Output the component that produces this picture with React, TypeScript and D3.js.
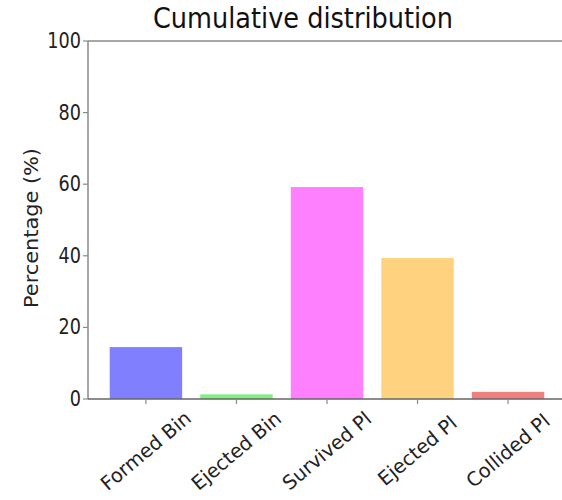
import React from "react";
import * as d3 from "d3";

const categories = ["Formed Bin", "Ejected Bin", "Survived Pl", "Ejected Pl", "Collided Pl"];
const values = [14.5, 1.3, 59.2, 39.4, 2.0];
const colors = ["#8080ff", "#80f080", "#ff80ff", "#ffd280", "#f08080"];
const yTicks = [0, 20, 40, 60, 80, 100];

const W = 562;
const H = 500;
const font = "'DejaVu Sans', sans-serif";

export default function App() {
  const x = d3.scaleLinear().domain([-0.64, 4.64]).range([88, 566]);
  const y = d3.scaleLinear().domain([0, 100]).range([399, 41]);
  const bw = x(0.8) - x(0);
  const axisColor = "#8a8a8a";
  const labelFs = 19.5;
  const tickFs = 21;

  return (
    <svg width={W} height={H} style={{ position: "absolute", left: 0, top: 0, background: "#fff" }}>
      <rect x={0} y={0} width={W} height={H} fill="#fff" />
      {categories.map((c, i) => (
        <rect
          key={c}
          x={x(i) - bw / 2}
          y={y(values[i])}
          width={bw}
          height={y(0) - y(values[i])}
          fill={colors[i]}
        />
      ))}
      {/* spines */}
      <line x1={x.range()[0]} x2={x.range()[1]} y1={y(100)} y2={y(100)} stroke={axisColor} strokeWidth={1.5} />
      <line x1={x.range()[0]} x2={x.range()[0]} y1={y(100)} y2={y(0)} stroke={axisColor} strokeWidth={1.5} />
      <line x1={x.range()[0]} x2={x.range()[1]} y1={y(0)} y2={y(0)} stroke="#666" strokeWidth={1.5} />
      {/* y ticks */}
      {yTicks.map((t) => (
        <g key={t}>
          <line x1={x.range()[0] - 5} x2={x.range()[0]} y1={y(t)} y2={y(t)} stroke={axisColor} strokeWidth={1.2} />
          <text
            x={81}
            y={y(t)}
            textAnchor="end"
            dominantBaseline="central"
            fontFamily={font}
            fontSize={tickFs}
            fill="#222"
            textLength={String(t).length * 0.636 * tickFs * 0.84}
            lengthAdjust="spacingAndGlyphs"
          >
            {t}
          </text>
        </g>
      ))}
      {/* x ticks and labels */}
      {categories.map((c, i) => (
        <g key={c}>
          <line x1={x(i)} x2={x(i)} y1={y(0)} y2={y(0) + 5} stroke={axisColor} strokeWidth={1.2} />
          <text
            transform={`translate(${x(i)},${451}) rotate(-40)`}
            textAnchor="middle"
            dominantBaseline="central"
            fontFamily={font}
            fontSize={labelFs}
            fill="#222"
          >
            {c}
          </text>
        </g>
      ))}
      {/* y label */}
      <text
        transform={`translate(38,228) rotate(-90)`}
        textAnchor="middle"
        fontFamily={font}
        fontSize={19}
        fontWeight={500}
        fill="#222"
        textLength={160}
        lengthAdjust="spacingAndGlyphs"
      >
        Percentage (%)
      </text>
      {/* title */}
      <text
        x={303}
        y={28}
        textAnchor="middle"
        fontFamily={font}
        fontSize={28}
        fill="#111"
        textLength={300}
        lengthAdjust="spacingAndGlyphs"
      >
        Cumulative distribution
      </text>
    </svg>
  );
}
